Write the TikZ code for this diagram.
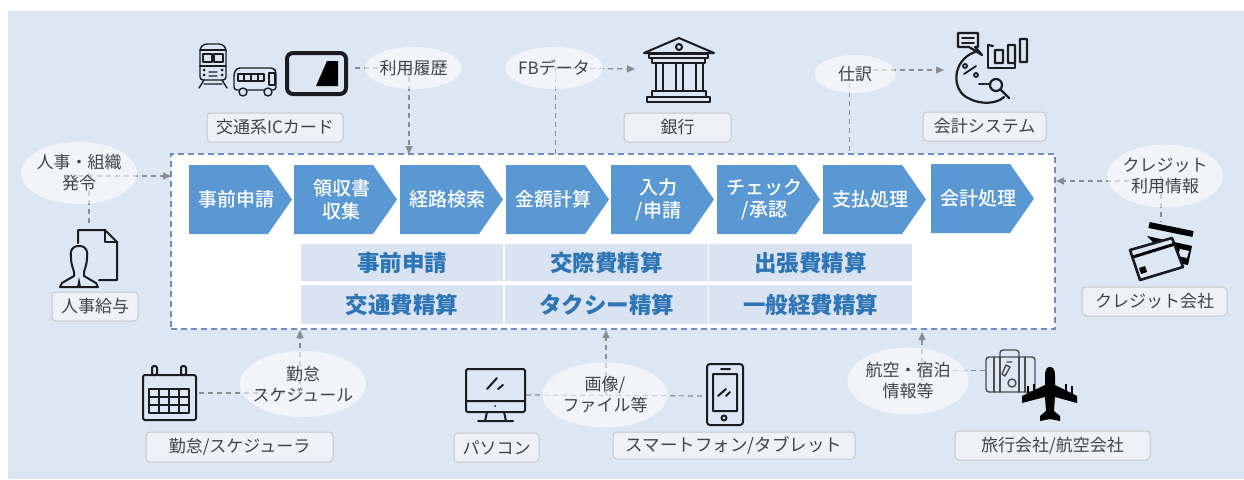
\documentclass[tikz,border=0pt]{standalone}
\usepackage{fontspec}
\setmainfont{Noto Sans CJK JP}
\newfontface\medfont{Noto Sans CJK JP Medium}
\usetikzlibrary{arrows.meta,shapes.geometric}
\pgfdeclarelayer{back}
\pgfdeclarelayer{mid}
\pgfsetlayers{back,mid,main}
\definecolor{bgblue}{HTML}{DCE7F3}
\definecolor{chevblue}{HTML}{5A98D3}
\definecolor{cellblue}{HTML}{D9E3F2}
\definecolor{celltext}{HTML}{2E75B6}
\definecolor{framecol}{HTML}{6F8CC4}
\definecolor{conncol}{HTML}{8A8D90}
\definecolor{icondark}{HTML}{1A1C20}
\definecolor{labeltext}{HTML}{404347}
\tikzset{
  chev/.style={rectangle, text=white, inner sep=0pt, align=center,
    font=\fontsize{19}{22.5}\selectfont\medfont},
  cell/.style={rectangle, fill=cellblue, text=celltext, inner sep=0pt,
    font=\fontsize{22.5}{26}\selectfont\bfseries},
  talk/.style={ellipse, fill=white, fill opacity=0.6, text opacity=1, text=labeltext,
    inner xsep=-14pt, inner ysep=-6pt,
    align=center, font=\fontsize{17}{21}\selectfont},
  tag/.style={rectangle, rounded corners=4pt, draw=black!22, fill=white!45!bgblue, line width=1pt,
    text=labeltext, inner sep=0pt, font=\fontsize{17}{20}\selectfont},
  conn/.style={draw=conncol, line width=1.2pt, dash pattern=on 5pt off 4pt},
  connarrow/.style={conn, -{Triangle[length=8pt,width=7pt]}},
  icon/.style={draw=icondark, line width=2pt, line join=round, line cap=round}
}
% name, left edge, top edge, text
\newcommand{\stepbox}[4]{
  \fill[chevblue] (#2,#3) -- ++(79,0) -- ++(24,34.5) -- ++(-24,34.5) -- ++(-79,0) -- cycle;
  \node[chev] (#1) at (#2+47.5,#3+34.5) {#4};
}
\begin{document}
\begin{tikzpicture}[x=1pt,y=-1pt]
  \useasboundingbox (0,0) rectangle (1244,479);
  % Background and frame
  \begin{pgfonlayer}{back}
    \fill[bgblue] (8,11) rectangle (1244,479);
    \node[rectangle, draw=framecol, fill=white, line width=1.2pt, dash pattern=on 6pt off 4pt,
      minimum width=884pt, minimum height=175pt] (frame) at (613,241.5) {};
  \end{pgfonlayer}

  % Steps
  \stepbox{step1}{189}{165}{事前申請}
  \stepbox{step2}{294}{165}{領収書\\収集}
  \stepbox{step3}{400}{165}{経路検索}
  \stepbox{step4}{506}{165}{金額計算}
  \stepbox{step5}{611}{165}{入力\\/申請}
  \stepbox{step6}{717}{165}{チェック\\/承認}
  \stepbox{step7}{823}{165}{支払処理}
  \stepbox{step8}{931}{164}{会計処理}

  % Table of expense types
  \node[cell, minimum width=202pt, minimum height=37pt] (c11) at (402,262.5) {事前申請};
  \node[cell, minimum width=203pt, minimum height=37pt] (c12) at (606.5,262.5) {交際費精算};
  \node[cell, minimum width=203pt, minimum height=37pt] (c13) at (810.5,262.5) {出張費精算};
  \node[cell, minimum width=202pt, minimum height=39pt] (c21) at (402,304.5) {交通費精算};
  \node[cell, minimum width=203pt, minimum height=39pt] (c22) at (606.5,304.5) {タクシー精算};
  \node[cell, minimum width=203pt, minimum height=39pt] (c23) at (810.5,304.5) {一般経費精算};

  % Ellipses
  \node[talk, minimum width=97pt, minimum height=42pt] (rireki) at (413.5,68) {利用履歴};
  \node[talk, minimum width=98pt, minimum height=42pt] (fbdata) at (554,68) {FBデータ};
  \node[talk, minimum width=81pt, minimum height=38pt] (shiwake) at (855,74) {仕訳};
  \node[talk, minimum width=116pt, minimum height=62pt] (hatsurei) at (79,173) {人事・組織\\発令};
  \node[talk, minimum width=116pt, minimum height=63pt] (credit) at (1165,176) {クレジット\\利用情報};
  \node[talk, minimum width=126pt, minimum height=66pt] (kintai) at (303,384) {勤怠\\スケジュール};
  \node[talk, minimum width=125pt, minimum height=65pt] (gazou) at (605,395) {画像/\\ファイル等};
  \node[talk, minimum width=121pt, minimum height=67pt] (koukuu) at (908,381) {航空・宿泊\\情報等};

  % Labels
  \node[tag, minimum width=136pt, minimum height=29pt] (lic) at (275,127.5) {交通系ICカード};
  \node[tag, minimum width=107pt, minimum height=29pt] (lbank) at (677.5,127.5) {銀行};
  \node[tag, minimum width=123pt, minimum height=29pt] (lacc) at (984.5,126.5) {会計システム};
  \node[tag, minimum width=86pt, minimum height=29pt] (lhr) at (95,306.5) {人事給与};
  \node[tag, minimum width=187pt, minimum height=30pt] (lsch) at (239.5,447) {勤怠/スケジューラ};
  \node[tag, minimum width=85pt, minimum height=29pt] (lpc) at (496.5,447.5) {パソコン};
  \node[tag, minimum width=242pt, minimum height=27pt, font=\fontsize{17.5}{20}\selectfont] (lsp) at (734,445.5) {スマートフォン/タブレット};
  \node[tag, minimum width=145pt, minimum height=29pt] (lcard) at (1154.5,301.5) {クレジット会社};
  \node[tag, minimum width=195pt, minimum height=29pt] (ltravel) at (1052.5,445.5) {旅行会社/航空会社};

  % Connector ends
  \coordinate (icic) at (355,68);
  \coordinate (icbank) at (635,69);
  \coordinate (icacc) at (944,70);
  \coordinate (ichr) at (89,224);
  \coordinate (iccard) at (1161,222);
  \coordinate (iccal) at (199,393);
  \coordinate (icpc) at (526,395);
  \coordinate (icsp) at (705,396);
  \coordinate (icsuit) at (985,370);
  \coordinate (inr) at (409,154);
  \coordinate (infb) at (555,154);
  \coordinate (insh) at (849,154);
  \coordinate (inhr) at (171,176);
  \coordinate (incr) at (1056,181);
  \coordinate (inki) at (300,330);
  \coordinate (inga) at (606,330);
  \coordinate (inko) at (922,332);

  % Connectors
  \begin{pgfonlayer}{mid}
    \draw[conn] (icic) -- (rireki.center);
    \draw[connarrow] (rireki.center -| inr) -- (inr);
    \draw[connarrow] (fbdata.center) -- (icbank);
    \draw[conn, line width=0.8pt] (fbdata.center -| infb) -- (infb);
    \draw[connarrow] (shiwake.center |- icacc) -- (icacc);
    \draw[conn, line width=0.8pt] (shiwake.center -| insh) -- (insh);
    \draw[connarrow] (hatsurei.center |- inhr) -- (inhr);
    \draw[conn] (hatsurei.center -| ichr) -- (ichr);
    \draw[connarrow] (credit.center |- incr) -- (incr);
    \draw[conn] (credit.center -| iccard) -- (iccard);
    \draw[conn] (iccal) -- (kintai.center |- iccal);
    \draw[connarrow] (kintai.center -| inki) -- (inki);
    \draw[conn] (icpc) -- (icsp);
    \draw[connarrow] (gazou.center -| inga) -- (inga);
    \draw[conn, line width=0.8pt] (icsuit) -- (koukuu.center |- icsuit);
    \draw[connarrow] (koukuu.center -| inko) -- (inko);
  \end{pgfonlayer}

  % Train
  \draw[icon, line width=1.4pt, rounded corners=3pt] (200,48) -- (204,44) -- (222,44) -- (226,48) -- (226,80) -- (200,80) -- cycle;
  \draw[icon, line width=1.4pt] (200,50) -- (226,50) (203,54) rectangle (212,62) (214,54) rectangle (223,62) (200,66) -- (226,66);
  \draw[icon, line width=1.4pt] (209,72) -- (217,72) (209,76) -- (217,76) (204,84) -- (222,84) (204,80) -- (199,88) (222,80) -- (227,88);
  \fill[icondark] (204,70) circle (1.5) (222,70) circle (1.5) (204,75) circle (1.5) (222,75) circle (1.5);
  % Bus
  \draw[icon, line width=1.4pt, rounded corners=3pt] (234,90) -- (234,73) -- (237,68) -- (274,68) -- (276,72) -- (276,90) -- cycle;
  \draw[icon, line width=1.4pt] (238,74) rectangle (264,81) (244,74) -- (244,81) (251,74) -- (251,81) (258,74) -- (258,81) (269,73) rectangle (275,85);
  \draw[icon, line width=1.4pt, fill=bgblue] (243,92) circle (4) (268,92) circle (4);
  % IC card
  \draw[icon, line width=4pt, rounded corners=6pt] (287,53) rectangle (346,94);
  \fill[black] (316,86) -- (327,61) -- (338,61) -- (338,86) -- cycle;

  % Bank
  \draw[icon] (679,38) -- (644,53) -- (714,53) -- cycle;
  \draw[icon] (679,47) circle (3);
  \draw[icon] (649,54) rectangle (708,58) (652,58) rectangle (705,63);
  \draw[icon] (656,63) rectangle (663,91) (676,63) rectangle (683,91) (696,63) rectangle (703,91);
  \draw[icon] (652,91) rectangle (706,97) (647,97) rectangle (710,102);

  % Accounting system
  \draw[icon, line width=2.2pt] (958,33) -- (978,33) -- (978,47) -- (975,47) -- (982,55) -- (969,47) -- (958,47) -- cycle;
  \draw[icon, line width=1.8pt] (962,38) -- (974,38) (962,43) -- (974,43);
  \draw[icon, line width=2.2pt] (975,52) .. controls (952,60) and (951,90) .. (968,98) .. controls (980,105) and (997,104) .. (1004,97);
  \draw[icon, line width=2.2pt] (988,45) -- (988,68) -- (1015,68) -- (1015,64);
  \draw[icon, line width=2.2pt] (988,45) -- (993,46) (995,50) rectangle (1003,63) (1008,45) rectangle (1015,63) (1020,39) rectangle (1027,62);
  \draw[icon, line width=1.8pt] (964,74) -- (976,66) (965,66) circle (2) (976,75) circle (2);
  \draw[icon, densely dotted, line width=1.8pt] (979,84) -- (989,84);
  \draw[icon, line width=2.2pt] (996,85) circle (6) (1001,90) -- (1009,98);

  % Person and document
  \draw[icon] (78,243) -- (78,230) -- (105,230) -- (117,242) -- (117,280) -- (99,280);
  \draw[icon] (105,230) -- (105,242) -- (117,242);
  \draw[icon] (79,246) .. controls (71,246) and (70,252) .. (71,258) .. controls (71,264) and (73,268) .. (74,272) -- (74,276) -- (62,283) -- (60,287) -- (98,287) -- (96,283) -- (84,276) -- (84,272) .. controls (85,268) and (87,264) .. (87,258) .. controls (88,252) and (87,246) .. (79,246) -- cycle;
  \fill[icondark] (79,277) -- (81,287) -- (77,287) -- cycle;

  % Credit cards
  \draw[black, line width=6pt] (1149,225) -- (1193,234);
  \fill[black] (1147,236) -- (1192,246) -- (1188,265) -- (1172,262) -- cycle;
  \fill[bgblue] (1180,249) -- (1189,251) -- (1187,258) -- (1178,256) -- cycle;
  \draw[icon, line width=2.6pt, fill=bgblue] (1130,250) -- (1172,238) -- (1183,267) -- (1140,280) -- cycle;
  \draw[black, line width=3pt] (1133,257) -- (1175,244);
  \fill[black] (1139,268) -- (1145,266) -- (1147,272) -- (1141,274) -- cycle;

  % Calendar
  \draw[icon, rounded corners=2pt] (143,375) rectangle (196,420);
  \draw[icon, fill=bgblue, rounded corners=1.5pt] (152,366) rectangle (157,375) (181,366) rectangle (186,375);
  \draw[icon] (149,389) rectangle (189,413) (159,389) -- (159,413) (169,389) -- (169,413) (179,389) -- (179,413) (149,397) -- (189,397) (149,405) -- (189,405);

  % Monitor
  \draw[icon, rounded corners=1.5pt] (466,369) rectangle (525,412);
  \draw[icon] (466,401) -- (525,401) (487,412) -- (485,421) (504,412) -- (506,421) (478,421) -- (513,421);
  \fill[icondark] (495,406) circle (1);
  \draw[icon] (487,389) -- (497,378) (498,389) -- (503,385);

  % Smartphone
  \draw[icon, rounded corners=3pt] (707,364) rectangle (743,425);
  \draw[icon] (713,374) rectangle (737,411) (721,369) -- (730,369) (724,418) circle (2.5);
  \draw[icon] (718,396) -- (726,389) (726,396) -- (730,392);

  % Suitcase
  \draw[icon, draw=black!70, line width=1.4pt, rounded corners=3pt] (986,357) rectangle (1035,392);
  \draw[icon, draw=black!70, line width=1.4pt, rounded corners=3pt] (1000,357) -- (1000,350) -- (1019,350) -- (1019,357);
  \draw[icon, draw=black!70, line width=1.4pt] (994,357) -- (994,392) (1000,357) -- (1000,392) (1019,357) -- (1019,392) (1025,357) -- (1025,392);
  \draw[icon, draw=black!70, line width=1.4pt] (1007,362) -- (1012,362) (1005,376) -- (1002,374) -- (1006,365) -- (1010,367) -- cycle (1012,383) circle (4);

  % Airplane
  \fill[black] (1045,376) .. controls (1045,369) and (1047,367) .. (1050,367) .. controls (1053,367) and (1055,369) .. (1055,376) -- (1055,385) -- (1077,396) -- (1077,403) -- (1055,397) -- (1054,411) -- (1060,416) -- (1060,421) -- (1050,419) -- (1040,421) -- (1040,416) -- (1046,411) -- (1045,397) -- (1022,403) -- (1022,396) -- (1045,385) -- cycle;
  \draw[black, line width=2.5pt] (1034,384) -- (1034,392) (1066,384) -- (1066,392) (1028,386) -- (1028,396) (1072,386) -- (1072,396);
\end{tikzpicture}
\end{document}
